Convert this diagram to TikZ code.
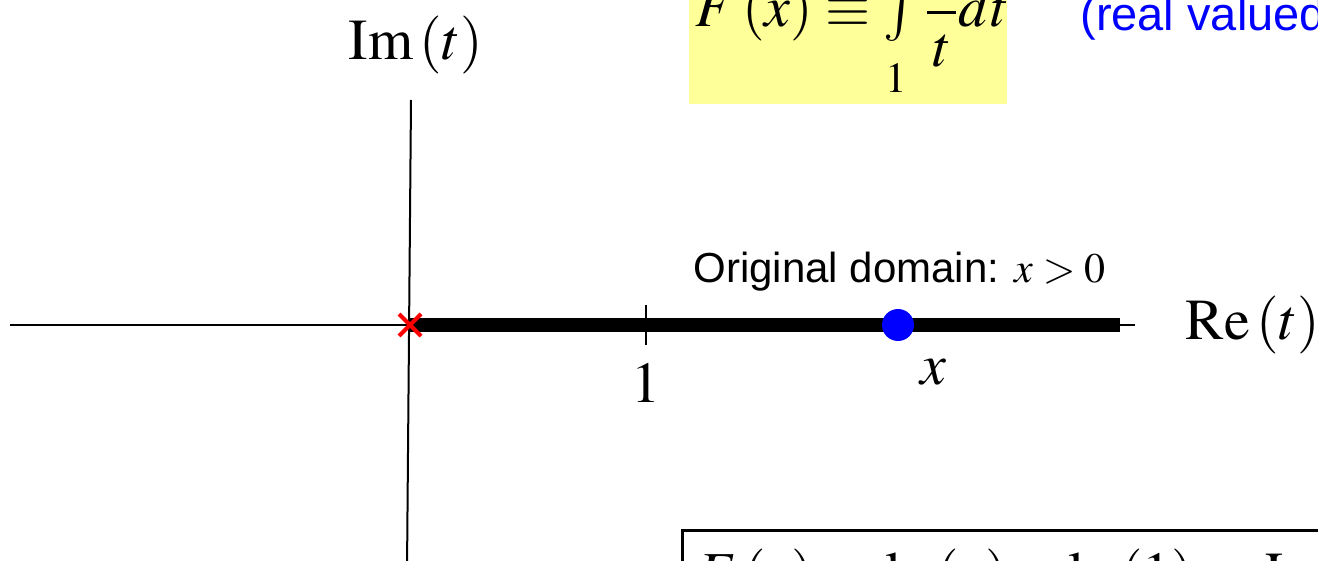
\documentclass[tikz,border=0pt]{standalone}
\usepackage{mathptmx}
\usepackage{fontspec}
\setmainfont{Liberation Serif}
\setsansfont{Liberation Sans}
\definecolor{noteyellow}{RGB}{255,255,153}
\newcommand{\bigtms}{\fontsize{29}{34}\selectfont}
\newcommand{\smallsf}{\fontsize{21}{25}\selectfont\sffamily}
\newcommand{\bluesf}{\fontsize{23.5}{28}\selectfont\sffamily}
\begin{document}
\begin{tikzpicture}[x=0.5pt, y=-0.5pt,
    axis/.style={black, line width=1pt},
    axlabel/.style={font=\bigtms, inner sep=0pt}]
  \useasboundingbox (0,0) rectangle (1318,561);
  \clip (0,0) rectangle (1318,561);
  % axes
  \coordinate (west) at (10,325);
  \coordinate (east) at (1135,325);
  \coordinate (north) at (411,100);
  \coordinate (south) at (407,570);
  \draw[axis] (west) -- (east);
  \draw[axis] (north) -- (south);
  % original domain
  \coordinate (zero) at (410,325);
  \coordinate (end) at (1120,325);
  \draw[line width=7pt] (zero) -- (end);
  \draw[red, line width=2pt] (zero) ++(-11,-11) -- ++(22,22) (zero) ++(-11,11) -- ++(22,-22);
  \coordinate (one) at (646,325);
  \draw[axis] (one) ++(0,-20) -- ++(0,40);
  \node[axlabel] (onelab) at (646,383) {$1$};
  \node[circle, fill=blue, minimum size=16pt, inner sep=0pt] (xpt) at (898,325) {};
  \node[axlabel] (xlab) at (933,372) {$x$};
  \node[font=\smallsf, anchor=base west, inner sep=0pt] (dom) at (693,283) {Original domain: {\rmfamily$x>0$}};
  \node[axlabel, anchor=west] (re) at (1185,325) {$\mathrm{Re}\left(t\right)$};
  \node[axlabel] (im) at (416,45) {$\mathrm{Im}\left(t\right)$};
  % definition
  \fill[noteyellow] (689,-80) rectangle (1007,104);
  \node[font=\bigtms, anchor=base west, inner sep=0pt] (def) at (695,27) {$\displaystyle F\left(x\right)\equiv\mathop{\textstyle\int}\limits^x\frac{1}{t}dt$};
  \node[font=\bigtms, inner sep=0pt] (lower) at (896,78) {$\scriptstyle 1$};
  \node[font=\bluesf, text=blue, anchor=base west, inner sep=0pt] (real) at (1080,31) {(real valued)};
  % result
  \node[draw, line width=1.5pt, anchor=north west, inner xsep=7pt, inner ysep=9pt, font=\bigtms] (res) at (681,529)
    {$F\left(x\right)=\ln\left(x\right)-\ln\left(1\right)=\mathrm{Ln}\left(x\right)-\mathrm{Ln}\left(1\right)$};
\end{tikzpicture}
\end{document}
